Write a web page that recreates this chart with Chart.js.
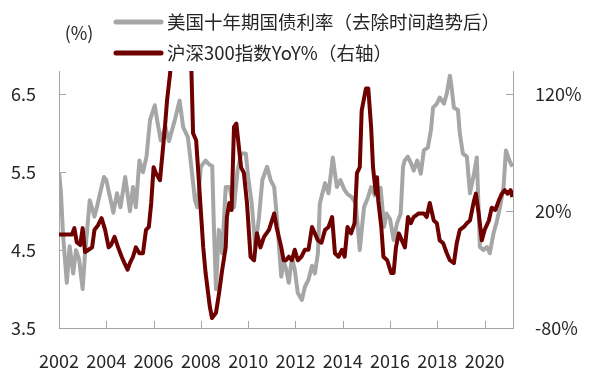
<!DOCTYPE html>
<html>
<head>
<meta charset="utf-8">
<script src="https://cdn.jsdelivr.net/npm/chart.js@4/dist/chart.umd.min.js"></script>
<style>
  html, body { margin: 0; padding: 0; background: #fff; }
  #wrap { width: 597px; height: 378px; }
</style>
</head>
<body>
<div id="wrap"><canvas id="chart" width="597" height="378"></canvas></div>
<script>
// 美国十年期国债利率（去除时间趋势后），左轴 (%)
const usTime = [
  2002.00, 2002.08, 2002.17, 2002.33, 2002.45, 2002.60, 2002.72, 2002.85, 2003.00, 2003.10,
  2003.30, 2003.50, 2003.60, 2003.90, 2004.00, 2004.30, 2004.45, 2004.60, 2004.80, 2005.00,
  2005.13, 2005.25, 2005.40, 2005.55, 2005.70, 2005.85, 2006.05, 2006.15, 2006.30, 2006.50,
  2006.65, 2006.90, 2007.10, 2007.25, 2007.45, 2007.60, 2007.75, 2007.85, 2008.00, 2008.20,
  2008.35, 2008.48, 2008.55, 2008.64, 2008.76, 2008.90, 2009.05, 2009.20, 2009.40, 2009.55,
  2009.70, 2009.90, 2010.00, 2010.15, 2010.30, 2010.45, 2010.60, 2010.80, 2010.95, 2011.10,
  2011.20, 2011.40, 2011.50, 2011.60, 2011.72, 2011.85, 2011.97, 2012.10, 2012.27, 2012.40,
  2012.55, 2012.70, 2012.82, 2012.95, 2013.03, 2013.25, 2013.40, 2013.58, 2013.75, 2013.90,
  2014.08, 2014.20, 2014.38, 2014.55, 2014.72, 2014.80, 2014.90, 2015.07, 2015.20, 2015.35,
  2015.50, 2015.60, 2015.75, 2015.85, 2016.00, 2016.15, 2016.30, 2016.45, 2016.55, 2016.62,
  2016.75, 2016.88, 2017.00, 2017.15, 2017.30, 2017.43, 2017.60, 2017.73, 2017.82, 2017.98,
  2018.10, 2018.28, 2018.40, 2018.53, 2018.60, 2018.70, 2018.87, 2018.95, 2019.08, 2019.25,
  2019.38, 2019.55, 2019.67, 2019.80, 2019.95, 2020.10, 2020.22, 2020.38, 2020.50, 2020.65,
  2020.80, 2020.90, 2021.05, 2021.17
];
const usYield = [
  5.50, 5.25, 4.70, 4.08, 4.55, 4.20, 4.50, 4.38, 4.00, 4.45,
  5.14, 4.93, 5.05, 5.44, 5.40, 4.98, 5.23, 5.05, 5.44, 5.00,
  5.31, 5.05, 5.65, 5.50, 5.70, 6.17, 6.36, 6.17, 5.91, 6.08,
  5.90, 6.17, 6.42, 6.08, 5.95, 5.56, 5.14, 5.05, 5.57, 5.65,
  5.60, 5.58, 4.80, 4.00, 4.76, 4.46, 5.31, 5.31, 5.05, 5.52,
  5.74, 5.74, 5.44, 5.10, 4.54, 4.90, 5.40, 5.57, 5.40, 5.31,
  4.97, 4.16, 4.37, 4.26, 4.08, 4.41, 4.25, 3.95, 3.86, 4.03,
  4.12, 4.30, 4.20, 4.46, 5.10, 5.36, 5.23, 5.69, 5.31, 5.40,
  5.27, 5.22, 5.18, 5.10, 4.50, 4.75, 5.05, 5.18, 5.31, 5.20,
  5.27, 5.30, 4.80, 4.97, 4.90, 4.63, 4.85, 4.97, 5.57, 5.65,
  5.70, 5.62, 5.52, 5.65, 5.48, 5.78, 5.82, 6.04, 6.33, 6.38,
  6.46, 6.38, 6.51, 6.74, 6.60, 6.33, 6.30, 6.00, 5.74, 5.70,
  5.23, 5.48, 5.69, 4.54, 4.50, 4.54, 4.46, 4.72, 4.85, 5.05,
  5.31, 5.78, 5.65, 5.57
];

// 沪深300指数YoY%，右轴
const csiTime = [
  2002.00, 2002.55, 2002.65, 2002.75, 2002.90, 2003.00, 2003.10, 2003.25, 2003.40, 2003.50,
  2003.65, 2003.80, 2003.95, 2004.10, 2004.20, 2004.35, 2004.50, 2004.65, 2004.75, 2004.90,
  2005.00, 2005.13, 2005.25, 2005.40, 2005.55, 2005.68, 2005.80, 2005.90, 2006.00, 2006.10,
  2006.27, 2006.35, 2006.48, 2006.57, 2006.70, 2006.80, 2007.00, 2007.30, 2007.50, 2007.60,
  2007.67, 2007.80, 2007.95, 2008.10, 2008.20, 2008.38, 2008.47, 2008.64, 2008.77, 2008.90,
  2009.05, 2009.10, 2009.20, 2009.30, 2009.40, 2009.50, 2009.70, 2009.82, 2009.95, 2010.10,
  2010.25, 2010.37, 2010.52, 2010.67, 2010.88, 2011.10, 2011.20, 2011.40, 2011.50, 2011.60,
  2011.72, 2011.85, 2011.97, 2012.10, 2012.25, 2012.40, 2012.55, 2012.70, 2012.82, 2012.95,
  2013.10, 2013.25, 2013.40, 2013.55, 2013.67, 2013.82, 2013.97, 2014.08, 2014.20, 2014.35,
  2014.50, 2014.60, 2014.72, 2014.80, 2014.98, 2015.08, 2015.20, 2015.28, 2015.40, 2015.45,
  2015.50, 2015.63, 2015.72, 2015.88, 2016.05, 2016.15, 2016.25, 2016.37, 2016.50, 2016.63,
  2016.76, 2016.88, 2017.00, 2017.20, 2017.43, 2017.55, 2017.68, 2017.85, 2017.98, 2018.10,
  2018.25, 2018.40, 2018.53, 2018.70, 2018.82, 2018.95, 2019.12, 2019.25, 2019.38, 2019.55,
  2019.63, 2019.75, 2019.88, 2020.00, 2020.18, 2020.30, 2020.45, 2020.60, 2020.73, 2020.85,
  2020.97, 2021.10, 2021.17
];
const csiYoy = [
  0, 0, 5.5, -6.5, -9, 5.5, -15, -13, -11, 4,
  8, 14, 4, -11, -9, -2, -11, -19, -23.6, -30,
  -24.5, -19, -11, -16, -16, 4, 6.5, 27, 57.6, 52.5,
  46.5, 63.6, 91.8, 115, 138, 200, 280, 300, 200, 140,
  86.7, 80.7, 35, -11, -33, -62, -71.5, -67, -50, -30.4,
  -11, 15, 27, 21, 92, 95, 57.6, 52.5, 27, -19,
  -22, 1.2, -11, -2, 4, 18, 6.5, -11, -22, -22,
  -19, -22, -13, -22, -19, -13, -13, 6.5, 1, -5,
  -7, 4, 6.5, 15, -16, -19, -13, -19, 6.5, 1,
  9.7, 52.5, 57.6, 106, 125, 125, 92, 57.6, 35, 49,
  29.4, 6.5, -19, -22, -33, -33, -11, 1, -5, -11,
  15, 9.7, 15, 18, 18, 15, 27, 12, 9.7, -5,
  -7.5, -16, -22, -24.5, -7.5, 4, 6.5, 9.7, 12, 29,
  35, 18, -5, 4, 12, 23, 21, 29, 35, 38,
  35, 38, 32
];

const xTicks = [2002, 2004, 2006, 2008, 2010, 2012, 2014, 2016, 2018, 2020];
const leftTicks = [3.5, 4.5, 5.5, 6.5];
const rightTicks = [-80, 20, 120];

const FONT = '"Noto Sans CJK SC", "Noto Sans", sans-serif';
const TEXT = '#262626';
const AXIS = '#a6a6a6';
const GRAY = '#a6a6a6';
const RED = '#6e0000';

// ticks point inward from the axis lines
const innerTicks = {
  id: 'innerTicks',
  afterDraw(chart) {
    const { ctx, chartArea, scales } = chart;
    const len = 7;
    ctx.save();
    ctx.strokeStyle = AXIS;
    ctx.lineWidth = 1;
    ctx.beginPath();
    scales.x.ticks.forEach(t => {
      const px = Math.round(scales.x.getPixelForValue(t.value)) + 0.5;
      ctx.moveTo(px, chartArea.bottom);
      ctx.lineTo(px, chartArea.bottom - len);
    });
    scales.y.ticks.forEach(t => {
      const py = Math.round(scales.y.getPixelForValue(t.value)) + 0.5;
      ctx.moveTo(chartArea.left, py);
      ctx.lineTo(chartArea.left + len, py);
    });
    scales.y1.ticks.forEach(t => {
      const py = Math.round(scales.y1.getPixelForValue(t.value)) + 0.5;
      ctx.moveTo(chartArea.right, py);
      ctx.lineTo(chartArea.right - len, py);
    });
    ctx.stroke();
    ctx.restore();
  }
};

// legend + unit label drawn by hand
const topLegend = {
  id: 'topLegend',
  afterDraw(chart) {
    const ctx = chart.ctx;
    const items = [
      { text: '美国十年期国债利率（去除时间趋势后）', color: GRAY, y: 22 },
      { text: '沪深300指数YoY%（右轴）', color: RED, y: 53 }
    ];
    ctx.save();
    ctx.font = '18.5px ' + FONT;
    ctx.textBaseline = 'middle';
    items.forEach(it => {
      ctx.strokeStyle = it.color;
      ctx.lineWidth = 5;
      ctx.lineCap = 'round';
      ctx.beginPath();
      ctx.moveTo(116, it.y);
      ctx.lineTo(161, it.y);
      ctx.stroke();
      ctx.fillStyle = TEXT;
      ctx.textAlign = 'left';
      ctx.fillText(it.text, 167, it.y);
    });
    ctx.font = '18px ' + FONT;
    ctx.textAlign = 'center';
    ctx.fillText('(%)', 79, 33);
    ctx.restore();
  }
};

const toPoints = (xs, ys) => xs.map((x, i) => ({ x: x, y: ys[i] }));

new Chart(document.getElementById('chart').getContext('2d'), {
  type: 'line',
  data: {
    datasets: [
      {
        label: '沪深300指数YoY%（右轴）',
        data: toPoints(csiTime, csiYoy),
        yAxisID: 'y1',
        borderColor: RED,
        borderWidth: 4,
        pointRadius: 0,
        tension: 0,
        borderJoinStyle: 'round',
        order: 0
      },
      {
        label: '美国十年期国债利率（去除时间趋势后）',
        data: toPoints(usTime, usYield),
        yAxisID: 'y',
        borderColor: GRAY,
        borderWidth: 4,
        pointRadius: 0,
        tension: 0,
        borderJoinStyle: 'round',
        order: 1
      }
    ]
  },
  options: {
    responsive: false,
    devicePixelRatio: 1,
    animation: false,
    events: [],
    layout: { padding: { top: 71, left: 0, right: 0, bottom: 0 } },
    plugins: {
      legend: { display: false },
      tooltip: { enabled: false }
    },
    scales: {
      x: {
        type: 'linear',
        min: 2002,
        max: 2021.2,
        afterBuildTicks: s => { s.ticks = xTicks.map(v => ({ value: v })); },
        afterFit: s => { s.height = 50; },
        grid: { drawOnChartArea: false, drawTicks: false },
        border: { color: AXIS, width: 1 },
        ticks: {
          padding: 22,
          color: TEXT,
          font: { family: FONT, size: 18 },
          maxRotation: 0,
          autoSkip: false,
          callback: v => String(v)
        }
      },
      y: {
        position: 'left',
        min: 3.5,
        max: 6.8,
        afterBuildTicks: s => { s.ticks = leftTicks.map(v => ({ value: v })); },
        afterFit: s => { s.width = 59; },
        grid: { drawOnChartArea: false, drawTicks: false },
        border: { color: AXIS, width: 1 },
        ticks: {
          padding: 23,
          color: TEXT,
          font: { family: FONT, size: 18 },
          callback: v => v.toFixed(1)
        }
      },
      y1: {
        position: 'right',
        min: -80,
        max: 140,
        afterBuildTicks: s => { s.ticks = rightTicks.map(v => ({ value: v })); },
        afterFit: s => { s.width = 84; },
        grid: { drawOnChartArea: false, drawTicks: false },
        border: { color: AXIS, width: 1 },
        ticks: {
          padding: 22,
          color: TEXT,
          font: { family: FONT, size: 18 },
          callback: v => v + '%'
        }
      }
    }
  },
  plugins: [innerTicks, topLegend]
});
</script>
</body>
</html>
